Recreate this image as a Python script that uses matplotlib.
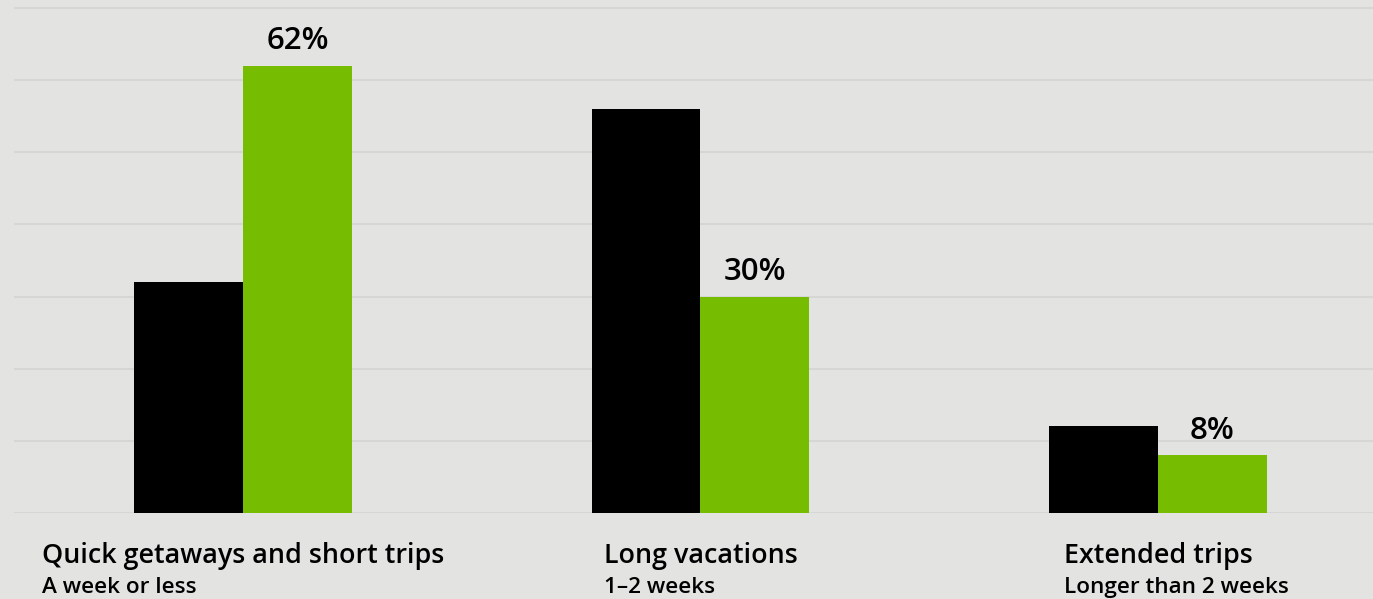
import matplotlib
matplotlib.use("Agg")
import matplotlib.pyplot as plt
import numpy as np

categories = ["Quick getaways and short trips", "Long vacations", "Extended trips"]
subtitles = ["A week or less", "1\u20132 weeks", "Longer than 2 weeks"]
series_black = [32, 56, 12]
series_green = [62, 30, 8]

BG = "#e3e3e1"
GRID = "#d6d6d4"
GREEN = "#76bc00"

plt.rcParams["font.family"] = ["Open Sans", "DejaVu Sans"]

fig = plt.figure(figsize=(13.73, 5.99), dpi=100, facecolor=BG)
ax = fig.add_axes([14 / 1373, 86 / 599, 1 - 14 / 1373, 513 / 599])
ax.set_facecolor(BG)

x = np.arange(len(categories))
width = 0.238
ax.bar(x - width / 2, series_black, width, color="black", zorder=3)
ax.bar(x + width / 2, series_green, width, color=GREEN, zorder=3)

ax.set_xlim(-0.5005, 2.47)
ax.set_ylim(0, 71.1)
ax.set_yticks(np.arange(0, 71, 10))
ax.yaxis.grid(True, color=GRID, linewidth=1.5, zorder=0)
ax.set_xticks([])
ax.tick_params(left=False, labelleft=False)
for s in ax.spines.values():
    s.set_visible(False)

for xi, v in zip(x, series_green):
    ax.annotate(f"{v}%", xy=(xi + width / 2, v), xytext=(0, 12),
                textcoords="offset points", ha="center", va="baseline",
                fontsize=22.5, fontweight="semibold", color="black")

for xi, cat, sub in zip(x, categories, subtitles):
    t = ax.annotate(cat, xy=(xi, 0), xytext=(0, -36), textcoords="offset points",
                    ha="center", va="baseline", fontsize=19.4,
                    fontweight="semibold", color="black", annotation_clip=False)
    ax.annotate(sub, xy=(0, 0), xycoords=(t, "data"), xytext=(0, -57.6),
                textcoords="offset points", ha="left", va="baseline",
                fontsize=16.2, fontweight="semibold", color="black",
                annotation_clip=False)

fig.savefig("out.png", dpi=100, facecolor=BG)
